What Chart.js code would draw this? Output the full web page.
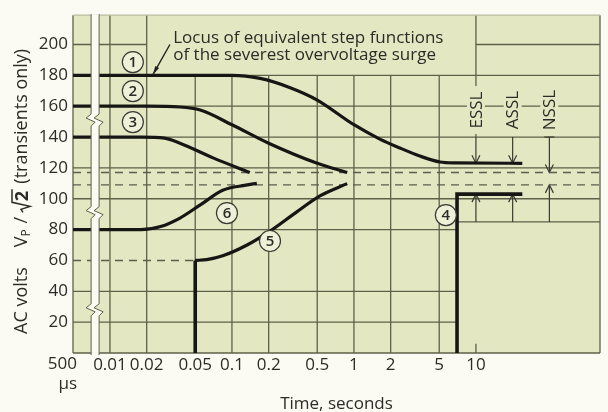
<!DOCTYPE html>
<html>
<head>
<meta charset="utf-8">
<script src="https://cdn.jsdelivr.net/npm/chart.js@4/dist/chart.umd.min.js"></script>
<style>
  html, body { margin: 0; padding: 0; background: #fbfbf4; }
  #wrap { width: 608px; height: 412px; position: relative; }
</style>
</head>
<body>
<div id="wrap"><canvas id="surge"></canvas></div>
<script>
// ---- Axis ticks ----
const xTickSeconds = [0.0005, 0.01, 0.02, 0.05, 0.1, 0.2, 0.5, 1, 2, 5, 10];
const xTickLabels = [['500', 'µs'], '0.01', '0.02', '0.05', '0.1', '0.2', '0.5', '1', '2', '5', '10'];
const xGridSeconds = [0.01, 0.02, 0.05, 0.1, 0.2, 0.5, 1, 2, 5];
const yTickVolts = [20, 40, 60, 80, 100, 120, 140, 160, 180, 200];
const yGridVolts = [20, 40, 80, 100, 120, 140, 160, 180, 200];

// ---- Withstand curves (time in seconds, AC volts) ----
const curve1Time  = [0.0005, 0.01, 0.1, 0.17, 0.3, 0.5, 1, 1.63, 2.38, 3.47, 5.07, 6.75, 24];
const curve1Volts = [180, 180, 180, 178, 172, 164, 148, 138.7, 132.9, 127.7, 123.8, 123.2, 123];

const curve2Time  = [0.0005, 0.02, 0.0375, 0.055, 0.1, 0.2, 0.5, 0.88];
const curve2Volts = [160, 160, 159.5, 157.5, 148, 136, 123, 117];

const curve3Time  = [0.0005, 0.018, 0.028, 0.0375, 0.07, 0.14];
const curve3Volts = [140, 140, 139.3, 136, 126.5, 117];

const curve4Time  = [7, 7, 24];
const curve4Volts = [0, 103, 103];

const curve5StepTime  = [0.05, 0.05];
const curve5StepVolts = [0, 60];
const curve5RiseTime  = [0.05, 0.062, 0.084, 0.133, 0.205, 0.34, 0.53, 0.88];
const curve5RiseVolts = [60, 60.5, 63, 70, 79, 91.5, 102, 109.8];

const curve6Time  = [0.0005, 0.018, 0.026, 0.0375, 0.055, 0.084, 0.13, 0.16];
const curve6Volts = [80, 80, 82, 87.5, 96, 105.5, 108.8, 110];

// ---- Reference levels (dashed) ----
const levelUpperVolts = 117;
const levelLowerVolts = 109;
const level60Time = [0.0005, 0.05];

// ---- Surge limit markers ----
const limitNames = ['ESSL', 'ASSL', 'NSSL'];
const limitTimes = [10, 20, 40];
const limitUpperVolts = [123, 123, 117];
const limitLowerVolts = [103, 103, 109];

// ---- Circled curve numbers (placement in seconds / volts) ----
const tagText  = ['1', '2', '3', '4', '5', '6'];
const tagTime  = [0.0154, 0.0154, 0.0154, 5.67, 0.205, 0.091];
const tagVolts = [188.6, 169.8, 149.7, 89.4, 72.6, 90.7];

// ---- Broken time axis: 500 µs .. 10 ms squeezed, log scale from 10 ms on ----
const T_START = 0.0005, T_LOG = 0.01, T_END = 104;
const SQUEEZED_SPAN = 0.303;
const BREAK_AT = 0.003;
const BREAK_KINK_VOLTS = [151, 91, 28];
function axisX(t) {
  if (t >= T_LOG) return Math.log10(t / T_LOG);
  const f = (Math.log10(t) - Math.log10(T_LOG)) / (Math.log10(T_LOG) - Math.log10(T_START));
  return f * SQUEEZED_SPAN;
}

// Regions kept free of grid lines
const NOTE_FROM = 0.02, NOTE_TO = 10, NOTE_FLOOR = 180;
const QUIET_FROM = 7, QUIET_CEIL = 85;

const PAGE = '#fbfbf4', PLOT = '#e3e8c3', GRID = '#5e6149', INK = '#161614', TEXT = '#2b2b27', DASH = '#5b5d4d';
const FONT = '"Open Sans", "DejaVu Sans", sans-serif';

const pts = (ts, vs) => ts.map((t, i) => ({ x: axisX(t), y: vs[i] }));

function curve(data, smooth, width) {
  return {
    data, showLine: true, borderColor: INK, borderWidth: width || 3.2,
    pointRadius: 0, fill: false,
    cubicInterpolationMode: smooth ? 'monotone' : 'default', tension: 0,
    borderCapStyle: 'butt', borderJoinStyle: 'miter'
  };
}
function dashed(data) {
  return {
    data, showLine: true, borderColor: DASH, borderWidth: 1.4, borderDash: [8, 6],
    pointRadius: 0, fill: false, tension: 0
  };
}

function px(chart, t) { return chart.scales.x.getPixelForValue(axisX(t)); }
function py(chart, v) { return chart.scales.y.getPixelForValue(v); }

function seg(ctx, x1, y1, x2, y2) {
  ctx.beginPath(); ctx.moveTo(x1, y1); ctx.lineTo(x2, y2); ctx.stroke();
}
function arrow(ctx, x, yFrom, yTo, bar) {
  seg(ctx, x, yFrom, x, yTo);
  const d = Math.sign(yTo - yFrom);
  ctx.beginPath();
  ctx.moveTo(x - 4, yTo - d * 8); ctx.lineTo(x, yTo); ctx.lineTo(x + 4, yTo - d * 8);
  ctx.stroke();
  if (bar) seg(ctx, x - 5, yFrom, x + 5, yFrom);
}

const paperPlugin = {
  id: 'paper',
  beforeDraw(chart) {
    const { ctx, chartArea: a } = chart;
    ctx.save();
    ctx.fillStyle = PLOT;
    ctx.fillRect(a.left, a.top, a.right - a.left, a.bottom - a.top);
    ctx.restore();
  },
  beforeDatasetsDraw(chart) {
    const { ctx, chartArea: a } = chart;
    ctx.save();
    ctx.strokeStyle = GRID; ctx.lineWidth = 1.3;
    const noteL = px(chart, NOTE_FROM), noteR = px(chart, NOTE_TO), noteB = py(chart, NOTE_FLOOR);
    const quietL = px(chart, QUIET_FROM), quietT = py(chart, QUIET_CEIL);

    xGridSeconds.forEach(t => {
      const x = px(chart, t);
      const top = (t > NOTE_FROM && t < NOTE_TO) ? noteB : a.top;
      seg(ctx, x, top, x, a.bottom);
    });
    yGridVolts.forEach(v => {
      const y = py(chart, v);
      if (v > NOTE_FLOOR) {
        seg(ctx, a.left, y, noteL, y);
        seg(ctx, noteR, y, a.right, y);
      } else {
        seg(ctx, a.left, y, v < QUIET_CEIL ? quietL : a.right, y);
      }
    });
    seg(ctx, quietL, quietT, a.right, quietT);

    const x10 = px(chart, 10);
    seg(ctx, x10, a.top, x10, py(chart, 140));
    seg(ctx, x10, a.bottom, x10, py(chart, 6));

    // frame
    seg(ctx, a.left, a.top, a.left, a.bottom);
    seg(ctx, a.right, a.top, a.right, a.bottom);
    seg(ctx, a.left, a.bottom, a.right, a.bottom);
    ctx.strokeStyle = '#b9bda0';
    seg(ctx, a.left, a.top, a.right, a.top);

    // surge limit labels and arrows
    ctx.strokeStyle = '#3a3b31'; ctx.lineWidth = 1.2;
    limitNames.forEach((name, i) => {
      const x = px(chart, limitTimes[i]);
      const cy = py(chart, 157.5);
      ctx.fillStyle = PLOT;
      ctx.fillRect(x - 9, cy - 24, 18, 48);
      ctx.save();
      ctx.translate(x, cy); ctx.rotate(-Math.PI / 2);
      ctx.fillStyle = TEXT; ctx.font = '17px ' + FONT;
      ctx.textAlign = 'center'; ctx.textBaseline = 'middle';
      ctx.fillText(name, 0, 1);
      ctx.restore();
      arrow(ctx, x, py(chart, 140), py(chart, limitUpperVolts[i]), i === 2);
      arrow(ctx, x, py(chart, QUIET_CEIL), py(chart, limitLowerVolts[i]), false);
    });
    ctx.restore();
  },
  afterDatasetsDraw(chart) {
    const { ctx, chartArea: a } = chart;
    ctx.save();

    // axis break band
    const xb = px(chart, BREAK_AT), half = 4;
    const kinks = BREAK_KINK_VOLTS.map(v => py(chart, v)).sort((p, q) => p - q);
    const path = [[a.top - 1, 0]];
    kinks.forEach(y => { path.push([y - 6, 0], [y - 2, -5], [y + 2, 4], [y + 6, 0]); });
    path.push([a.bottom + 2, 0]);
    ctx.beginPath();
    path.forEach(([y, dx], i) => i ? ctx.lineTo(xb - half + dx, y) : ctx.moveTo(xb - half + dx, y));
    for (let i = path.length - 1; i >= 0; i--) ctx.lineTo(xb + half + path[i][1], path[i][0]);
    ctx.closePath();
    ctx.fillStyle = PAGE; ctx.fill();
    ctx.strokeStyle = GRID; ctx.lineWidth = 1;
    [-half, half].forEach(off => {
      ctx.beginPath();
      path.forEach(([y, dx], i) => i ? ctx.lineTo(xb + off + dx, y) : ctx.moveTo(xb + off + dx, y));
      ctx.stroke();
    });

    // circled curve numbers
    tagText.forEach((txt, i) => {
      const x = px(chart, tagTime[i]), y = py(chart, tagVolts[i]);
      ctx.beginPath(); ctx.arc(x, y, 10.5, 0, Math.PI * 2);
      ctx.fillStyle = '#eef1d8'; ctx.fill();
      ctx.strokeStyle = '#3a3a33'; ctx.lineWidth = 1.2; ctx.stroke();
      ctx.fillStyle = TEXT; ctx.font = '600 15px ' + FONT;
      ctx.textAlign = 'center'; ctx.textBaseline = 'middle';
      ctx.fillText(txt, x, y + 1);
    });

    // locus note
    ctx.fillStyle = TEXT; ctx.font = '17px ' + FONT;
    ctx.textAlign = 'left'; ctx.textBaseline = 'alphabetic';
    const nx = px(chart, 0.033);
    ctx.fillText('Locus of equivalent step functions', nx, py(chart, 201));
    ctx.fillText('of the severest overvoltage surge', nx, py(chart, 190));
    const lx1 = px(chart, 0.031), ly1 = py(chart, 200), lx2 = px(chart, 0.0225), ly2 = py(chart, 180.5);
    ctx.strokeStyle = '#222'; ctx.lineWidth = 1.4;
    seg(ctx, lx1, ly1, lx2, ly2);
    const ang = Math.atan2(ly2 - ly1, lx2 - lx1);
    ctx.beginPath();
    ctx.moveTo(lx2, ly2);
    ctx.lineTo(lx2 - 9 * Math.cos(ang - 0.25), ly2 - 9 * Math.sin(ang - 0.25));
    ctx.lineTo(lx2 - 9 * Math.cos(ang + 0.25), ly2 - 9 * Math.sin(ang + 0.25));
    ctx.closePath(); ctx.fillStyle = '#222'; ctx.fill();

    // first time label (two lines, set left of its tick)
    const x0 = px(chart, xTickSeconds[0]);
    ctx.fillStyle = TEXT; ctx.font = '17px ' + FONT; ctx.textAlign = 'right'; ctx.textBaseline = 'middle';
    ctx.fillText(xTickLabels[0][0], x0 + 4, a.bottom + 11);
    ctx.fillText(xTickLabels[0][1], x0 + 4, a.bottom + 31);

    // vertical axis title
    ctx.translate(22, 334);
    ctx.rotate(-Math.PI / 2);
    ctx.fillStyle = TEXT; ctx.strokeStyle = TEXT;
    ctx.textAlign = 'left'; ctx.textBaseline = 'middle';
    const big = '18px ' + FONT, sub = '12px ' + FONT;
    let x = 0;
    ctx.font = big; ctx.fillText('AC volts', x, 0); x += ctx.measureText('AC volts').width + 20;
    ctx.fillText('V', x, 0); x += ctx.measureText('V').width;
    ctx.font = sub; ctx.fillText('P', x, 5); x += ctx.measureText('P').width + 1;
    ctx.font = big; ctx.fillText(' / ', x, 0); x += ctx.measureText(' / ').width;
    ctx.lineWidth = 1.5;
    ctx.beginPath();
    ctx.moveTo(x, 1); ctx.lineTo(x + 3, -1); ctx.lineTo(x + 6, 8); ctx.lineTo(x + 10, -10); ctx.lineTo(x + 23, -10);
    ctx.stroke();
    ctx.font = 'bold 18px ' + FONT; ctx.fillText('2', x + 11, 1); x += 24;
    ctx.font = big; ctx.fillText(' (transients only)', x, 0);
    ctx.restore();
  }
};

new Chart(document.getElementById('surge'), {
  type: 'scatter',
  data: {
    datasets: [
      curve(pts(curve1Time, curve1Volts), true),
      curve(pts(curve2Time, curve2Volts), true),
      curve(pts(curve3Time, curve3Volts), true),
      curve(pts(curve4Time, curve4Volts), false, 3.6),
      curve(pts(curve5StepTime, curve5StepVolts), false, 3.6),
      curve(pts(curve5RiseTime, curve5RiseVolts), true),
      curve(pts(curve6Time, curve6Volts), true),
      dashed(pts([T_START, T_END], [levelUpperVolts, levelUpperVolts])),
      dashed(pts([T_START, T_END], [levelLowerVolts, levelLowerVolts])),
      dashed(pts(level60Time, [60, 60]))
    ]
  },
  options: {
    responsive: true,
    maintainAspectRatio: false,
    animation: false,
    events: [],
    layout: { padding: { top: 15, right: 8, left: 0, bottom: 0 } },
    plugins: { legend: { display: false }, tooltip: { enabled: false } },
    scales: {
      x: {
        type: 'linear',
        min: axisX(T_START),
        max: axisX(T_END),
        grid: { display: false, drawTicks: false },
        border: { display: false },
        afterBuildTicks: s => { s.ticks = xTickSeconds.map(t => ({ value: axisX(t) })); },
        afterFit: s => { s.height = 59; },
        ticks: {
          autoSkip: false, maxRotation: 0, minRotation: 0, padding: 2,
          color: TEXT, font: { family: FONT, size: 17 },
          callback: (v, i) => i === 0 ? '' : xTickLabels[i]
        },
        title: {
          display: true, text: 'Time, seconds', color: TEXT,
          font: { family: FONT, size: 17 }, padding: { top: 0, bottom: -2 }
        }
      },
      y: {
        type: 'linear',
        min: 0,
        max: 219,
        grid: { display: false, drawTicks: false },
        border: { display: false },
        afterBuildTicks: s => { s.ticks = yTickVolts.map(v => ({ value: v })); },
        afterFit: s => { s.width = 73; },
        ticks: { padding: 5, color: TEXT, font: { family: FONT, size: 17 } }
      }
    }
  },
  plugins: [paperPlugin]
});
</script>
</body>
</html>
